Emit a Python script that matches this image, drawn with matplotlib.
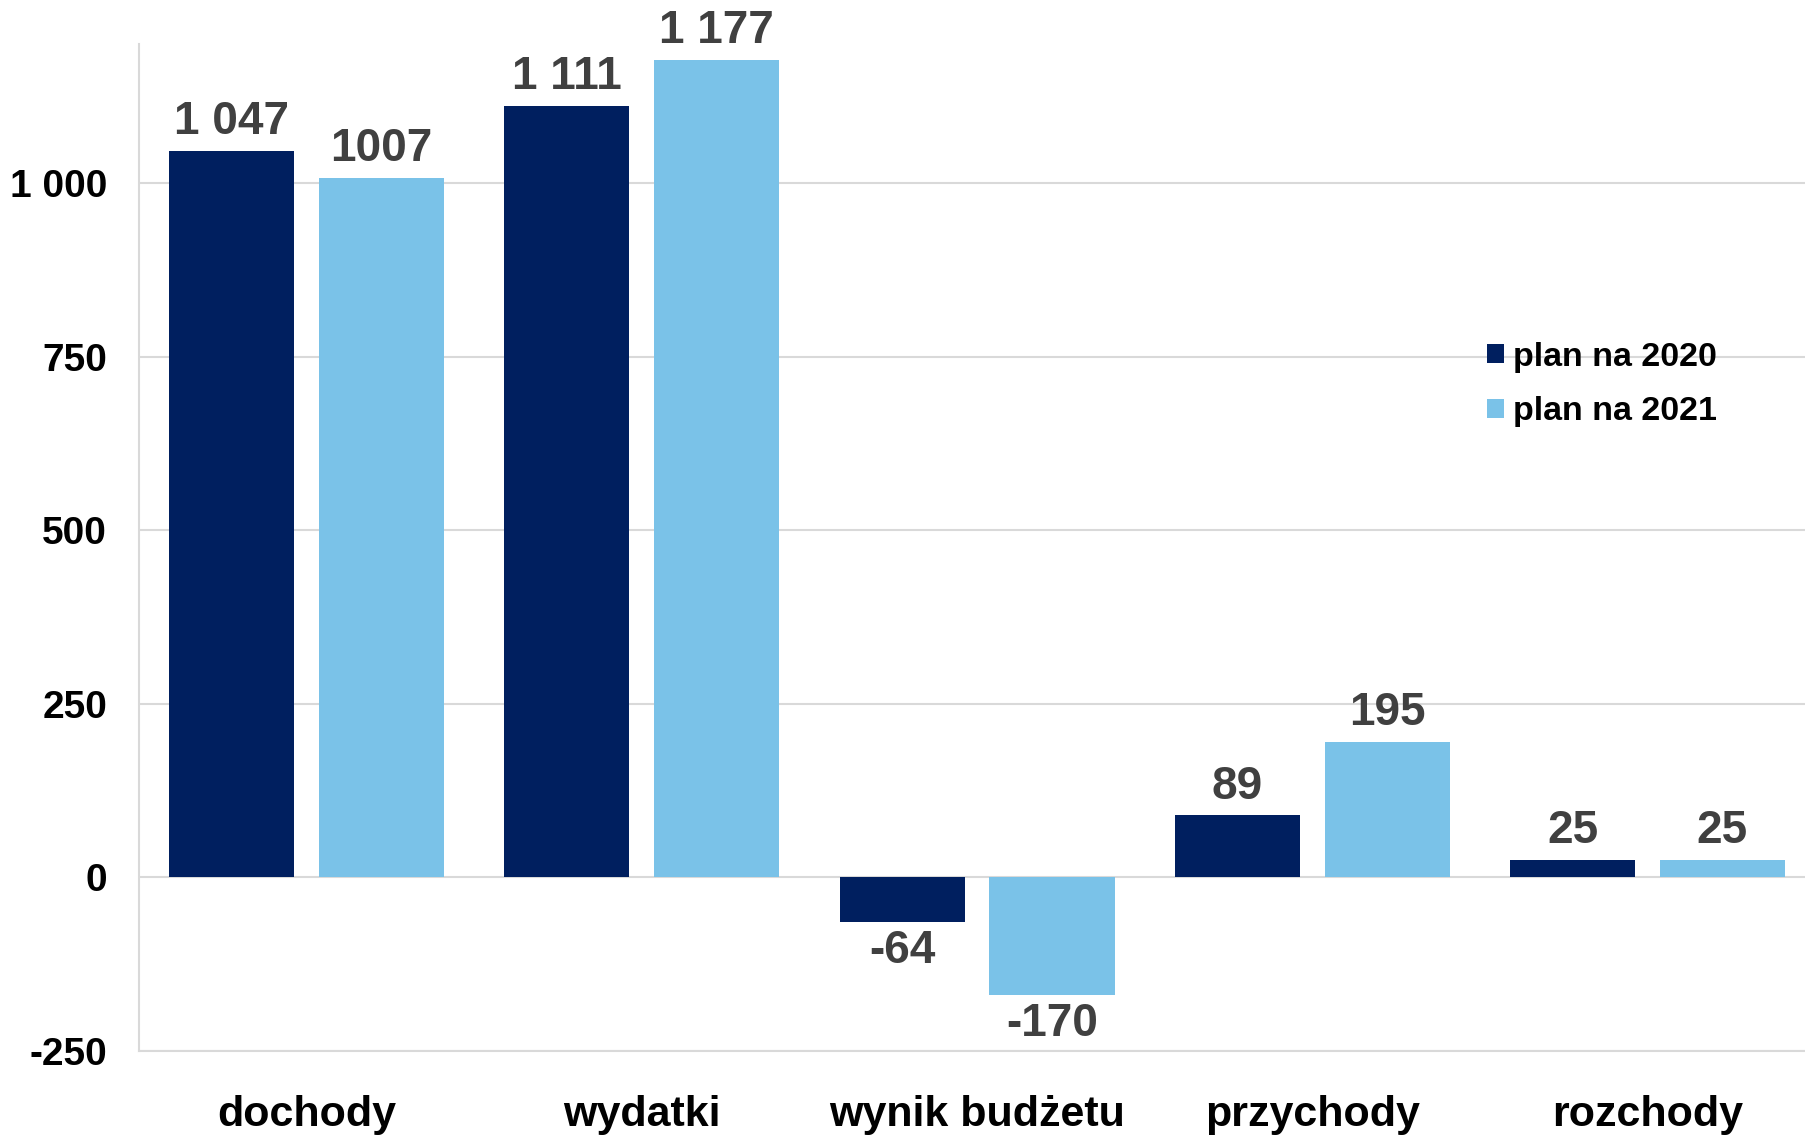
import matplotlib.pyplot as plt
import numpy as np

plt.rcParams['font.family'] = ['Liberation Sans', 'DejaVu Sans']

# data
categories = ['dochody', 'wydatki', 'wynik budżetu', 'przychody', 'rozchody']
plan_2020 = [1047, 1111, -64, 89, 25]
plan_2021 = [1007, 1177, -170, 195, 25]
labels_2020 = ['1 047', '1 111', '-64', '89', '25']
labels_2021 = ['1007', '1 177', '-170', '195', '25']
yticks = [-250, 0, 250, 500, 750, 1000]

color_2020 = '#001F5F'
color_2021 = '#7AC2E8'
grid_color = '#D9D9D9'

fig = plt.figure(figsize=(18.06, 11.36), dpi=100)
ax = fig.add_axes([0.077, 0.075, 0.928, 0.886])

x = np.arange(len(categories))
w = 0.373
off = 0.2236
b1 = ax.bar(x - off, plan_2020, w, color=color_2020, label='plan na 2020', zorder=3)
b2 = ax.bar(x + off, plan_2021, w, color=color_2021, label='plan na 2021', zorder=3)

# value labels
for bars, labs in ((b1, labels_2020), (b2, labels_2021)):
    for rect, lab in zip(bars, labs):
        h = rect.get_height()
        cx = rect.get_x() + rect.get_width() / 2
        if h >= 0:
            ax.annotate(lab, (cx, h), xytext=(0, 5), textcoords='offset points',
                        ha='center', va='bottom', fontsize=33, fontweight='bold',
                        color='#404040')
        else:
            ax.annotate(lab, (cx, h), xytext=(0, -5), textcoords='offset points',
                        ha='center', va='top', fontsize=33, fontweight='bold',
                        color='#404040')

ax.set_xlim(-0.5, len(categories) - 0.5)
ax.set_ylim(-250, 1200)
ax.set_yticks(yticks)
ax.set_yticklabels([f'{v:,}'.replace(',', ' ') for v in yticks],
                   fontsize=28, fontweight='bold')
ax.set_xticks(x)
ax.set_xticklabels(categories, fontsize=31, fontweight='bold')
ax.tick_params(axis='both', length=0)
ax.tick_params(axis='x', pad=32)
ax.tick_params(axis='y', pad=23)

ax.yaxis.grid(True, color=grid_color, linewidth=1.5, zorder=0)
ax.set_axisbelow(True)
for s in ('top', 'right'):
    ax.spines[s].set_visible(False)
ax.spines['left'].set_color(grid_color)
ax.spines['left'].set_linewidth(1.5)
ax.spines['bottom'].set_color(grid_color)
ax.spines['bottom'].set_linewidth(1.5)

leg = ax.legend(loc='upper left', bbox_to_anchor=(0.786, 0.735), frameon=False,
                prop={'size': 24.5, 'weight': 'bold'}, handlelength=0.5,
                handleheight=0.5, handletextpad=0.27, labelspacing=0.7)

plt.savefig('out.png', dpi=100, facecolor='white')
